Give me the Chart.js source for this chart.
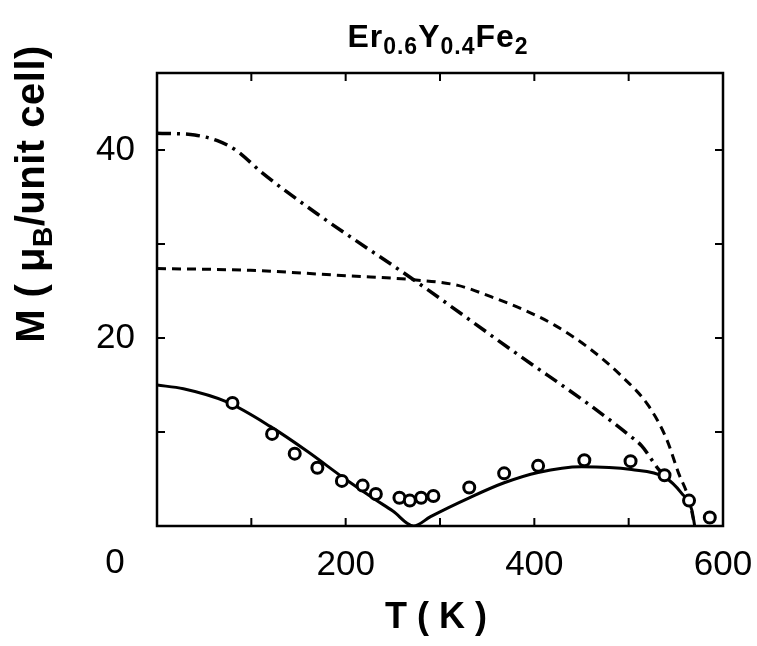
<!DOCTYPE html>
<html>
<head>
<meta charset="utf-8">
<script src="https://cdn.jsdelivr.net/npm/chart.js@4"></script>
<style>
  html, body { margin: 0; padding: 0; background: #fff; }
  #wrap { width: 757px; height: 646px; }
</style>
</head>
<body>
<div id="wrap"><canvas id="c" width="757" height="646"></canvas></div>
<script>
// ---- data ----
const expT = [80, 122, 146, 170, 196, 218, 232, 257, 268, 280, 293, 331, 368, 404, 453, 502, 538, 564, 586];
const expM = [13.1, 9.8, 7.7, 6.2, 4.8, 4.3, 3.4, 3.0, 2.7, 3.0, 3.2, 4.1, 5.6, 6.4, 7.0, 6.9, 5.4, 2.7, 0.9];

const solidT = [0, 28, 74, 120, 160, 198, 230, 250, 272, 290, 331, 368, 404, 450, 503, 538, 556, 567, 570];
const solidM = [15.0, 14.6, 13.2, 10.6, 7.9, 5.1, 2.9, 1.6, 0, 1.0, 3.0, 4.6, 5.7, 6.3, 6.0, 5.2, 3.5, 1.7, 0];

const dashDotT = [0, 40, 64, 85, 110, 170, 272, 386, 457, 500, 514, 532, 540];
const dashDotM = [41.8, 41.6, 41.0, 39.9, 37.7, 33.2, 26.2, 18.0, 13.0, 9.7, 8.5, 6.0, 5.2];

const dashT = [0, 99, 205, 272, 319, 354, 389, 421, 457, 493, 521, 540, 553, 564, 570];
const dashM = [27.4, 27.2, 26.6, 26.2, 25.6, 24.4, 23.0, 21.4, 19.0, 15.9, 12.8, 9.3, 5.6, 2.8, 0];

const xTickLabels = [200, 400, 600];   // "0" drawn separately, offset left as in the reference
const yTickLabels = [20, 40];
const xMinorTicks = [100, 200, 300, 400, 500];
const yMinorTicks = [10, 20, 30, 40];

const titleParts = [["Er", false], ["0.6", true], ["Y", false], ["0.4", true], ["Fe", false], ["2", true]];
const yTitleParts = [["M ( \u03BC", false], ["B", true], ["/unit cell)", false]];
const xTitle = "T ( K )";

const toXY = (xs, ys) => xs.map((v, i) => ({ x: v, y: ys[i] }));

function drawRich(ctx, parts, cx, cy, mainFont, subFont, subShift, spacing) {
  let total = 0;
  const widths = parts.map(([t, sub]) => {
    ctx.font = sub ? subFont : mainFont;
    let w = 0;
    for (const ch of t) w += ctx.measureText(ch).width + spacing;
    total += w;
    return w;
  });
  let x = cx - total / 2;
  ctx.textAlign = 'left';
  ctx.textBaseline = 'alphabetic';
  parts.forEach(([t, sub], i) => {
    ctx.font = sub ? subFont : mainFont;
    let xx = x;
    for (const ch of t) {
      ctx.fillText(ch, xx, cy + (sub ? subShift : 0));
      xx += ctx.measureText(ch).width + spacing;
    }
    x += widths[i];
  });
}

const framePlugin = {
  id: 'frame',
  afterDatasetsDraw(chart) {
    const { ctx, chartArea: { left, right, top, bottom }, scales: { x, y } } = chart;
    ctx.save();
    ctx.strokeStyle = '#000';
    ctx.lineWidth = 2.5;
    ctx.strokeRect(left, top, right - left, bottom - top);
    ctx.lineWidth = 2;
    const tl = 8;
    ctx.beginPath();
    xMinorTicks.forEach(v => {
      const px = x.getPixelForValue(v);
      ctx.moveTo(px, bottom); ctx.lineTo(px, bottom - tl);
      ctx.moveTo(px, top); ctx.lineTo(px, top + tl);
    });
    yMinorTicks.forEach(v => {
      const py = y.getPixelForValue(v);
      ctx.moveTo(left, py); ctx.lineTo(left + tl, py);
      ctx.moveTo(right, py); ctx.lineTo(right - tl, py);
    });
    ctx.stroke();

    ctx.fillStyle = '#000';
    // stray "0" label of the x axis
    ctx.font = '35px "Liberation Sans"';
    ctx.textAlign = 'center';
    ctx.textBaseline = 'top';
    ctx.fillText('0', x.getPixelForValue(0) - 42, bottom + 20);

    // title
    drawRich(ctx, titleParts, 438, 47, 'bold 32px "Liberation Sans"', 'bold 23px "Liberation Sans"', 7, 1);

    // x title
    ctx.font = 'bold 36px "Liberation Sans"';
    ctx.textAlign = 'center';
    ctx.textBaseline = 'alphabetic';
    ctx.fillText(xTitle, 436, 628);

    // y title
    ctx.save();
    ctx.translate(44, 194);
    ctx.rotate(-Math.PI / 2);
    drawRich(ctx, yTitleParts, 0, 0, 'bold 40px "Liberation Sans"', 'bold 28px "Liberation Sans"', 8, 0.5);
    ctx.restore();
    ctx.restore();
  }
};

new Chart(document.getElementById('c'), {
  type: 'line',
  data: {
    datasets: [
      {
        label: 'experiment',
        data: toXY(expT, expM),
        showLine: false,
        pointStyle: 'circle',
        pointRadius: 5.5,
        pointBorderWidth: 3,
        pointBackgroundColor: '#fff',
        pointBorderColor: '#000'
      },
      {
        label: 'total',
        data: toXY(solidT, solidM),
        borderColor: '#000',
        borderWidth: 3,
        pointRadius: 0,
        cubicInterpolationMode: 'monotone'
      },
      {
        label: 'dash-dot',
        data: toXY(dashDotT, dashDotM),
        borderColor: '#000',
        borderWidth: 3.5,
        borderDash: [14, 6, 3, 6],
        pointRadius: 0,
        cubicInterpolationMode: 'monotone'
      },
      {
        label: 'dashed',
        data: toXY(dashT, dashM),
        borderColor: '#000',
        borderWidth: 3,
        borderDash: [9, 6],
        pointRadius: 0,
        cubicInterpolationMode: 'monotone'
      }
    ]
  },
  options: {
    responsive: false,
    animation: false,
    layout: { padding: { top: 73, right: 34, left: 0, bottom: 0 } },
    plugins: { legend: { display: false }, tooltip: { enabled: false }, title: { display: false } },
    scales: {
      x: {
        type: 'linear',
        min: 0, max: 600,
        afterFit: s => { s.height = 120; s.paddingLeft = 0; s.paddingRight = 0; },
        afterBuildTicks: s => { s.ticks = [0, 100, 200, 300, 400, 500, 600].map(v => ({ value: v })); },
        grid: { display: true, color: 'rgba(0,0,0,0)', drawTicks: false },
        border: { display: false },
        ticks: {
          padding: 18,
          maxRotation: 0,
          autoSkip: false,
          color: '#000',
          font: { family: 'Liberation Sans', size: 35 },
          callback: v => xTickLabels.includes(v) ? String(v) : ''
        }
      },
      y: {
        type: 'linear',
        min: 0, max: 48.2,
        afterFit: s => { s.width = 157; s.paddingTop = 0; s.paddingBottom = 0; },
        afterBuildTicks: s => { s.ticks = [0, 10, 20, 30, 40].map(v => ({ value: v })); },
        grid: { display: true, color: 'rgba(0,0,0,0)', drawTicks: false },
        border: { display: false },
        ticks: {
          padding: 22,
          color: '#000',
          font: { family: 'Liberation Sans', size: 35 },
          callback: v => yTickLabels.includes(v) ? String(v) : ''
        }
      }
    }
  },
  plugins: [framePlugin]
});
</script>
</body>
</html>
